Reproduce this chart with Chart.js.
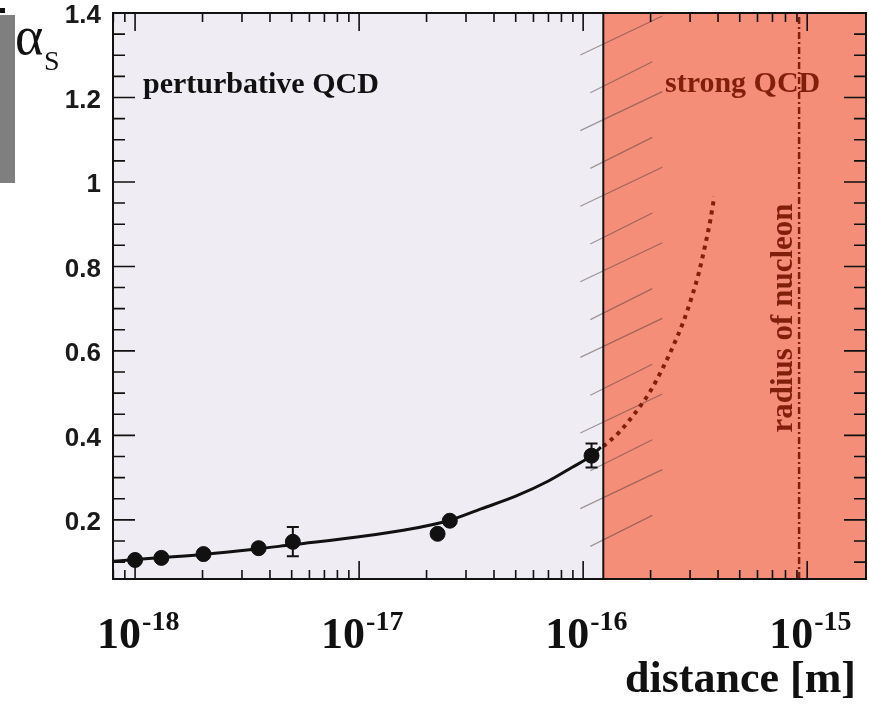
<!DOCTYPE html>
<html>
<head>
<meta charset="utf-8">
<script src="https://cdn.jsdelivr.net/npm/chart.js@4.4.0/dist/chart.umd.min.js"></script>
<style>
  html, body { margin: 0; padding: 0; background: #fff; }
  canvas { display: block; }
</style>
</head>
<body>
<canvas id="alphas" width="869" height="704"></canvas>
<script>
// measured alpha_s values vs. distance [m]
const pointDist = [1.0e-18, 1.31e-18, 2.02e-18, 3.56e-18, 5.06e-18, 2.24e-17, 2.54e-17, 1.09e-16];
const pointAlpha = [0.105, 0.110, 0.119, 0.133, 0.148, 0.167, 0.198, 0.352];
const pointErrLow = [null, null, null, null, 0.114, null, null, 0.324];
const pointErrHigh = [null, null, null, null, 0.183, null, null, 0.381];

// running coupling (perturbative)
const curveDist = [8.0e-19, 1.0e-18, 2.0e-18, 3.5e-18, 5.0e-18, 1.0e-17, 1.6e-17, 2.5e-17, 3.5e-17, 5.0e-17, 7.0e-17, 8.9e-17, 1.09e-16, 1.2e-16];
const curveAlpha = [0.102, 0.106, 0.118, 0.131, 0.141, 0.160, 0.176, 0.198, 0.226, 0.256, 0.292, 0.324, 0.352, 0.372];

// extrapolation into the strong regime
const extraDist = [1.23e-16, 1.45e-16, 1.70e-16, 1.98e-16, 2.25e-16, 2.52e-16, 2.80e-16, 3.05e-16, 3.28e-16, 3.50e-16, 3.70e-16, 3.85e-16];
const extraAlpha = [0.374, 0.408, 0.452, 0.502, 0.556, 0.611, 0.669, 0.727, 0.784, 0.849, 0.911, 0.966];

const strongFrom = 1.23e-16;
const nucleonRadius = 9.2e-16;

const yTicks = [0.2, 0.4, 0.6, 0.8, 1, 1.2, 1.4];
const xDecades = [-18, -17, -16, -15];
const yMin = 0.06, yMax = 1.4;
const xMin = 7.97e-19, xMax = 1.83e-15;

const darkRed = '#7f1f0c';
const serif = '"Liberation Serif", "Times New Roman", serif';

// keep axis label overhang from moving the plot box
function noPadding(s) {
  s.paddingTop = 0;
  s.paddingBottom = 0;
  s.paddingLeft = 0;
  s.paddingRight = 0;
}

const backdrop = {
  id: 'backdrop',
  beforeDraw(chart) {
    const { ctx, chartArea: a, scales: { x } } = chart;
    ctx.save();
    ctx.fillStyle = '#fff';
    ctx.fillRect(0, 0, chart.width, chart.height);
    ctx.fillStyle = '#7f7f7f';
    ctx.fillRect(0, 15, 15, 168);
    ctx.fillStyle = '#111';
    ctx.fillRect(0, 8, 5, 5);

    ctx.fillStyle = '#efedf3';
    ctx.fillRect(a.left, a.top, a.width, a.height);
    const xs = x.getPixelForValue(strongFrom);
    ctx.fillStyle = '#f58e78';
    ctx.fillRect(xs, a.top, a.right - xs, a.height);

    // hatching along the boundary
    ctx.strokeStyle = 'rgba(80,60,60,0.5)';
    ctx.lineWidth = 1.2;
    for (let i = 0; ; i++) {
      const y0 = a.top + 42 + i * 37.8;
      if (y0 > a.bottom + 4) break;
      const long = i % 2 === 0;
      ctx.beginPath();
      ctx.moveTo(xs - (long ? 23 : 13), y0);
      ctx.lineTo(xs + (long ? 59 : 49), y0 - (long ? 39 : 31));
      ctx.stroke();
    }
    ctx.restore();
  }
};

const frame = {
  id: 'frame',
  afterDatasetsDraw(chart) {
    const { ctx, chartArea: a, scales: { x, y } } = chart;
    ctx.save();

    // error bars
    ctx.strokeStyle = '#111';
    ctx.lineWidth = 2;
    pointDist.forEach((d, i) => {
      if (pointErrLow[i] == null) return;
      const px = x.getPixelForValue(d);
      const lo = y.getPixelForValue(pointErrLow[i]);
      const hi = y.getPixelForValue(pointErrHigh[i]);
      ctx.beginPath();
      ctx.moveTo(px, lo); ctx.lineTo(px, hi);
      ctx.moveTo(px - 6, lo); ctx.lineTo(px + 6, lo);
      ctx.moveTo(px - 6, hi); ctx.lineTo(px + 6, hi);
      ctx.stroke();
    });

    // box and boundary
    ctx.strokeRect(a.left, a.top, a.width, a.height);
    const xs = x.getPixelForValue(strongFrom);
    ctx.beginPath();
    ctx.moveTo(xs, a.top); ctx.lineTo(xs, a.bottom);
    ctx.stroke();

    // inward ticks on all four sides
    ctx.lineWidth = 1.6;
    ctx.beginPath();
    for (let k = 2; k <= 28; k++) {
      const py = y.getPixelForValue(k * 0.05);
      const len = k % 4 === 0 ? 22 : 12;
      ctx.moveTo(a.left, py); ctx.lineTo(a.left + len, py);
      ctx.moveTo(a.right, py); ctx.lineTo(a.right - len, py);
    }
    for (let e = -19; e <= -15; e++) {
      for (let m = 1; m <= 9; m++) {
        const v = m * Math.pow(10, e);
        if (v < xMin || v > xMax) continue;
        const px = x.getPixelForValue(v);
        const len = m === 1 ? 18 : 9;
        ctx.moveTo(px, a.bottom); ctx.lineTo(px, a.bottom - len);
        ctx.moveTo(px, a.top); ctx.lineTo(px, a.top + len);
      }
    }
    ctx.stroke();

    // x tick labels with exponents
    ctx.fillStyle = '#111';
    ctx.textBaseline = 'alphabetic';
    xDecades.forEach(e => {
      const px = x.getPixelForValue(Math.pow(10, e));
      ctx.font = 'bold 44px ' + serif;
      ctx.textAlign = 'right';
      ctx.fillText('10', px + 6, 648);
      ctx.font = 'bold 28px ' + serif;
      ctx.textAlign = 'left';
      ctx.fillText('-' + Math.abs(e), px + 7, 630);
    });

    ctx.font = 'bold 44px ' + serif;
    ctx.textAlign = 'right';
    ctx.fillText('distance [m]', 856, 692);

    // axis symbol
    ctx.textAlign = 'left';
    ctx.font = '54px ' + serif;
    ctx.fillText('\u03b1', 15, 54);
    ctx.font = '28px ' + serif;
    ctx.fillText('S', 44, 70);

    // region labels
    ctx.font = 'bold 30px ' + serif;
    ctx.fillText('perturbative QCD', 143, 93);
    ctx.fillStyle = darkRed;
    ctx.fillText('strong QCD', 665, 92);

    const xn = x.getPixelForValue(nucleonRadius);
    ctx.translate(xn - 7, 318);
    ctx.rotate(-Math.PI / 2);
    ctx.textAlign = 'center';
    ctx.font = 'bold 31px ' + serif;
    ctx.fillText('radius of nucleon', 0, 0);
    ctx.restore();
  }
};

new Chart(document.getElementById('alphas'), {
  type: 'line',
  data: {
    datasets: [
      {
        label: 'data',
        data: pointDist.map((d, i) => ({ x: d, y: pointAlpha[i] })),
        showLine: false,
        pointRadius: 7.5,
        pointBackgroundColor: '#111',
        pointBorderColor: '#111',
        order: 0
      },
      {
        label: 'running',
        data: curveDist.map((d, i) => ({ x: d, y: curveAlpha[i] })),
        borderColor: '#111',
        borderWidth: 3,
        pointRadius: 0,
        cubicInterpolationMode: 'monotone',
        order: 1
      },
      {
        label: 'extrapolation',
        data: extraDist.map((d, i) => ({ x: d, y: extraAlpha[i] })),
        borderColor: darkRed,
        borderWidth: 4,
        borderDash: [4, 5],
        pointRadius: 0,
        cubicInterpolationMode: 'monotone',
        order: 2
      },
      {
        label: 'nucleon',
        data: [{ x: nucleonRadius, y: yMin }, { x: nucleonRadius, y: yMax }],
        borderColor: darkRed,
        borderWidth: 2.5,
        borderDash: [7, 3, 2, 3],
        pointRadius: 0,
        order: 3
      }
    ]
  },
  options: {
    responsive: false,
    animation: false,
    layout: { autoPadding: false, padding: { left: 0, right: 3, top: 13, bottom: 125 } },
    plugins: { legend: { display: false }, tooltip: { enabled: false } },
    scales: {
      x: { type: 'logarithmic', min: xMin, max: xMax, display: false, afterFit: noPadding },
      y: {
        type: 'linear',
        min: yMin,
        max: yMax,
        afterFit(s) { s.width = 113; noPadding(s); },
        afterBuildTicks(s) { s.ticks = yTicks.map(v => ({ value: v })); },
        grid: { display: false, drawTicks: false },
        border: { display: false },
        ticks: {
          font: { family: '"Liberation Sans", Arial, sans-serif', size: 26, weight: 'bold' },
          color: '#1a1a1a',
          padding: 12,
          labelOffset: 3,
          callback: v => String(v)
        }
      }
    }
  },
  plugins: [backdrop, frame]
});
</script>
</body>
</html>
